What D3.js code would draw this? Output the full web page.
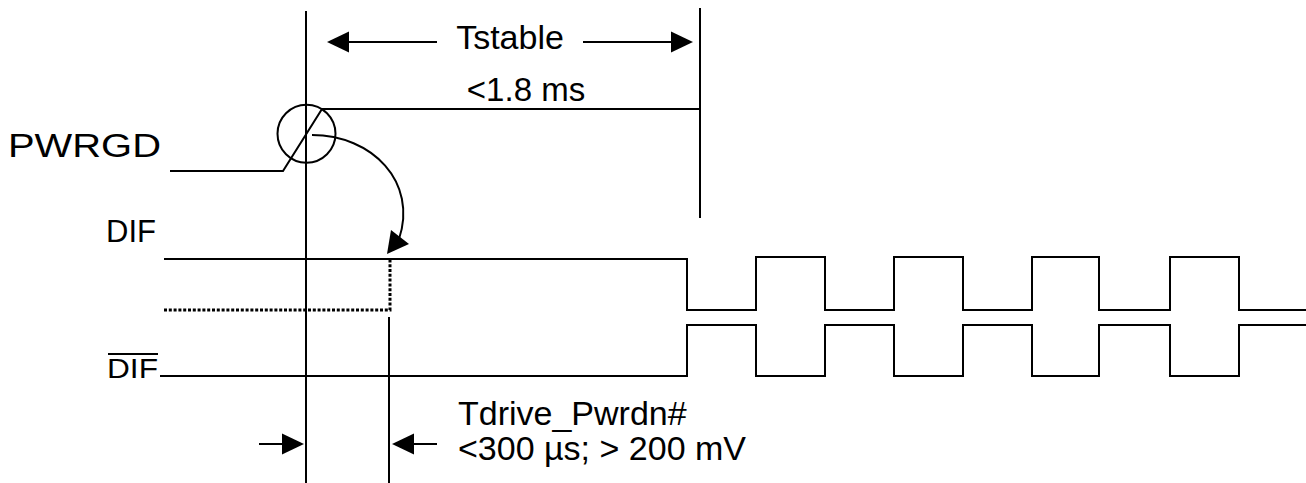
<!DOCTYPE html>
<html>
<head>
<meta charset="utf-8">
<script src="https://cdn.jsdelivr.net/npm/d3@7"></script>
<style>
  body { margin: 0; background: #fff; }
  svg { display: block; }
  text { font-family: "Liberation Sans", Arial, sans-serif; fill: #000; }
</style>
</head>
<body>
<div id="chart"></div>
<script>
// time axis is in drawing units (left edge = 0)
const pwrgdEdge = [283, 322]        // start / end of the PWRGD rise
const pwrgdStart = 170
const tstableEnd = 700              // end of Tstable window
const tdriveEnd = 389               // DIF released at this time
const sigStart = 164                // where DIF / DIF# traces begin
const clockEdges = [687, 756, 825, 894, 963, 1032, 1099, 1170, 1239]
const clockEnd = 1306
const difStates = [1, 0, 1, 0, 1, 0, 1, 0, 1, 0]   // DIF level after each edge (first = before 1st edge)
const labels = ['PWRGD', 'DIF', 'DIF', 'Tstable', '<1.8 ms', 'Tdrive_Pwrdn#', '<300 µs; > 200 mV']

const W = 1306, H = 483

const svg = d3.select('#chart').append('svg').attr('width', W).attr('height', H)

const x = d3.scaleLinear().domain([0, W]).range([0, W])
// one level scale per trace: 0 = low, 1 = high
const yPwr = d3.scaleLinear().domain([0, 1]).range([171, 109])
const yDif = d3.scaleLinear().domain([0, 1]).range([310, 257])
const yDifB = d3.scaleLinear().domain([0, 1]).range([376, 325])

const line = d3.line().x(d => d[0]).y(d => d[1])

const stroke = (sel, w) => sel.attr('fill', 'none').attr('stroke', '#000').attr('stroke-width', w || 2)

// build step waveform points
function steps(states, ys, t0, invert) {
	let pts = []
	let lv = s => ys(invert ? 1 - s : s)
	pts.push([x(t0), lv(states[0])])
	clockEdges.forEach((t, i) => {
		pts.push([x(t), lv(states[i])])
		pts.push([x(t), lv(states[i + 1])])
	})
	pts.push([x(clockEnd), lv(states[states.length - 1])])
	return pts
}

// reference verticals
stroke(svg.append('line').attr('x1', x(306)).attr('x2', x(306)).attr('y1', 11).attr('y2', H))
stroke(svg.append('line').attr('x1', x(tstableEnd)).attr('x2', x(tstableEnd)).attr('y1', 8).attr('y2', 218))
stroke(svg.append('line').attr('x1', x(tdriveEnd)).attr('x2', x(tdriveEnd)).attr('y1', 317).attr('y2', H))

// PWRGD trace
stroke(svg.append('path').attr('d', line([
	[x(pwrgdStart), yPwr(0)],
	[x(pwrgdEdge[0]), yPwr(0)],
	[x(pwrgdEdge[1]), yPwr(1)],
	[x(tstableEnd), yPwr(1)],
])))

// circle round the PWRGD edge
stroke(svg.append('circle').attr('cx', x(306.5)).attr('cy', yPwr(0.6)).attr('r', 29))

// curved arrow from PWRGD edge to DIF release
stroke(svg.append('path').attr('d', 'M' + x(312) + ',135 C' + x(372) + ',135 ' + x(418) + ',182 ' + x(399) + ',239'))
svg.append('path')
	.attr('d', line([[x(387), 254], [x(391), 230], [x(409), 244]]) + 'Z')
	.attr('fill', '#000')

// DIF: dotted undriven part, then solid
stroke(svg.append('path').attr('d', line([
	[x(sigStart), yDif(0)],
	[x(tdriveEnd + 1), yDif(0)],
	[x(tdriveEnd + 1), yDif(1) + 2],
]))).attr('stroke-width', 3).attr('stroke-dasharray', '3,1.8')

stroke(svg.append('path').attr('d', line(
	[[x(sigStart), yDif(1) + 2], [x(clockEdges[0]), yDif(1) + 2], [x(clockEdges[0]), yDif(0)]]
		.concat(steps(difStates, yDif, clockEdges[0]).slice(3))
)))

// DIF#
stroke(svg.append('path').attr('d', line(
	[[x(160), yDifB(0)]].concat(steps(difStates, yDifB, sigStart, true).slice(1))
)))

// arrow helper: tip at (tx, ty), dir = +1 points right
function arrow(x0, tx, ty, dir) {
	const base = tx - dir * 22
	stroke(svg.append('line').attr('x1', x(x0)).attr('x2', x(base)).attr('y1', ty).attr('y2', ty))
	svg.append('path')
		.attr('d', line([[x(tx), ty], [x(base), ty - 10.5], [x(base), ty + 10.5]]) + 'Z')
		.attr('fill', '#000')
}

// Tstable dimension
arrow(437, 327, 42, -1)
arrow(583, 693, 42, 1)
// Tdrive dimension
arrow(259, 304, 444, 1)
arrow(437, 392, 444, -1)

// labels
svg.append('text').attr('x', 8).attr('y', 157).style('font-size', '34px')
	.attr('textLength', 153).attr('lengthAdjust', 'spacingAndGlyphs').text(labels[0])
svg.append('text').attr('x', 106).attr('y', 242).style('font-size', '32px')
	.attr('textLength', 50).attr('lengthAdjust', 'spacingAndGlyphs').text(labels[1])
svg.append('text').attr('x', 107).attr('y', 378).style('font-size', '28px')
	.attr('textLength', 51).attr('lengthAdjust', 'spacingAndGlyphs').text(labels[2])
stroke(svg.append('line').attr('x1', 108).attr('x2', 158).attr('y1', 354).attr('y2', 354))
svg.append('text').attr('x', x(510)).attr('y', 49).attr('text-anchor', 'middle').style('font-size', '34px').text(labels[3])
svg.append('text').attr('x', x(526)).attr('y', 101).attr('text-anchor', 'middle').style('font-size', '33px').text(labels[4])
svg.append('text').attr('x', x(458)).attr('y', 425).style('font-size', '34px').text(labels[5])
svg.append('text').attr('x', x(458)).attr('y', 460).style('font-size', '34px').text(labels[6])
</script>
</body>
</html>
